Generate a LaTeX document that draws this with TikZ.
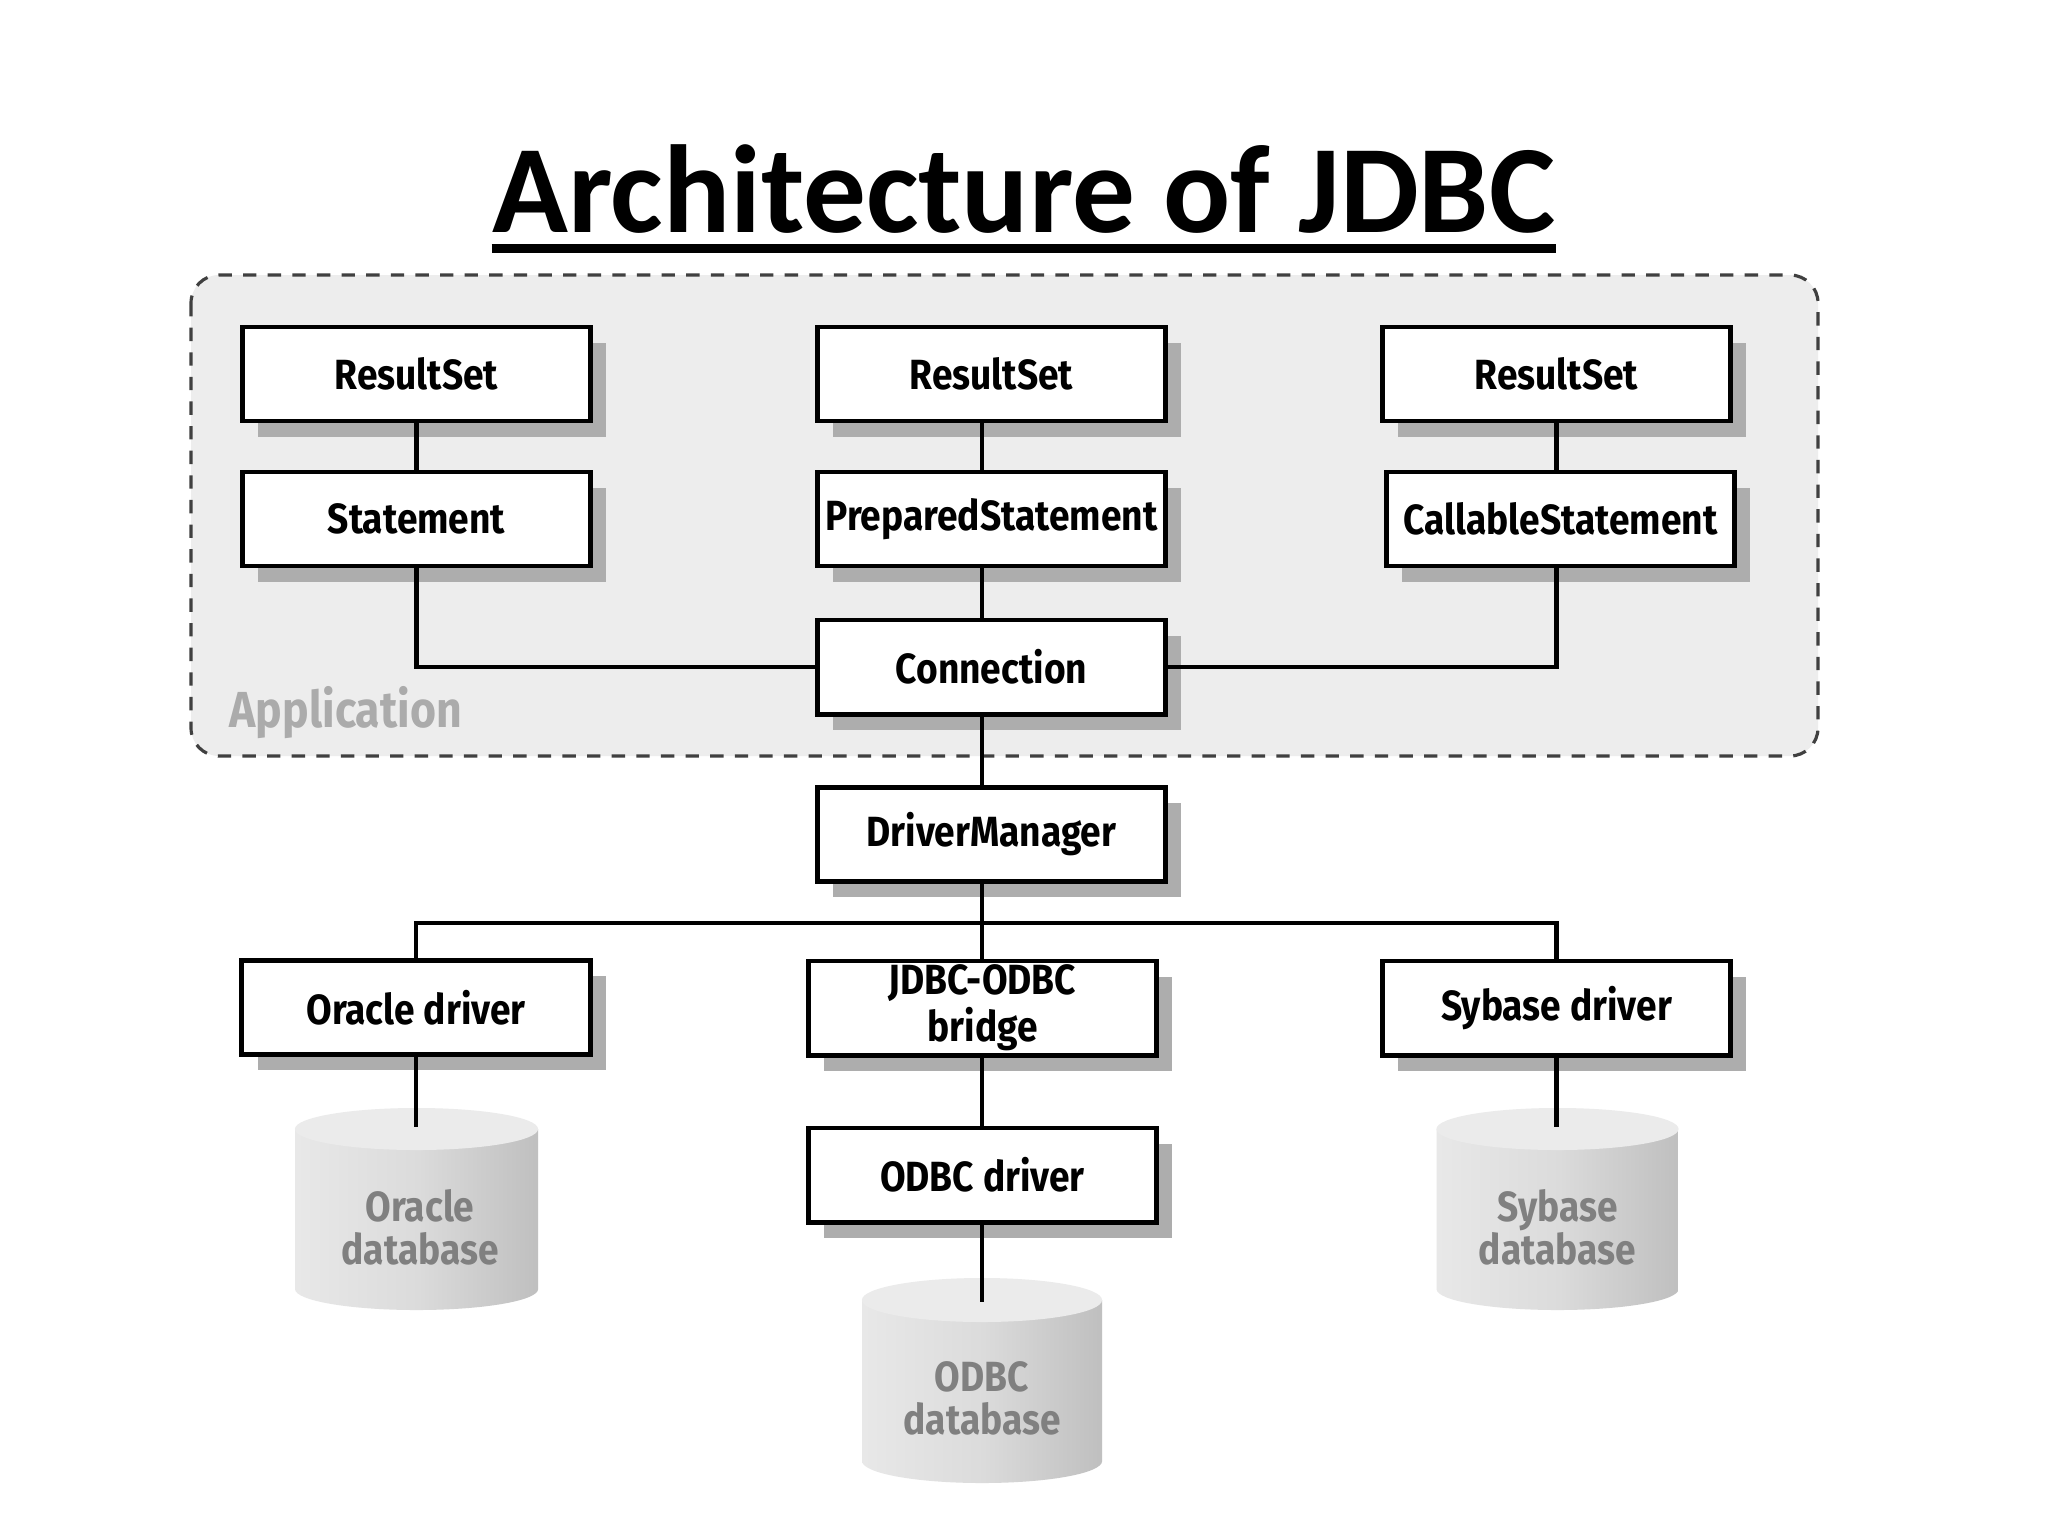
\documentclass[tikz,border=0pt]{standalone}
\usepackage{fontspec}
\usetikzlibrary{shadows,calc}
\newfontfamily\titlefont{Carlito}
\newfontfamily\boxfont{Fira Sans}[FakeStretch=0.88]

\begin{document}
\begin{tikzpicture}[x=0.01cm, y=-0.01cm,
  box/.style={draw, line width=1.4pt, fill=white, minimum width=3.48cm,
    minimum height=0.94cm, inner sep=0pt, align=center,
    font=\boxfont\bfseries\fontsize{12}{13.4}\selectfont,
    drop shadow={shadow xshift=4.5pt, shadow yshift=-4.5pt, fill=black!32, opacity=1}},
  link/.style={line width=1.15pt},
  dblabel/.style={align=center, inner sep=0pt, text=black!50,
    font=\boxfont\bfseries\fontsize{12}{12.3}\selectfont},
  appbox/.style={draw=black!75, line width=0.9pt, dash pattern=on 3.8pt off 3.2pt,
    rounded corners=0.28cm, fill=black!7},
  cylbody/.style={left color=black!9, right color=black!25, middle color=black!14},
  cyltop/.style={fill=black!8}
  ]
\fill[white] (0,0) rectangle (2048,1536);
\useasboundingbox (0,0) rectangle (2048,1536);

% title
\node[anchor=base, inner sep=0pt, font=\titlefont\bfseries\fontsize{35.6}{40}\selectfont] (title) at (1024,232) {Architecture of JDBC};
\draw[line width=2.6pt] ([yshift=-4.6pt]title.base west) -- ([yshift=-4.6pt]title.base east);

% application area
\path[appbox] (191,275) rectangle (1818,756);
\node[anchor=base west, inner sep=0pt, text=black!33,
  font=\boxfont\bfseries\fontsize{14.4}{15}\selectfont] (applbl) at (229,727) {Application};

% databases
\shade[cylbody] (295,1129) -- (295,1289) arc[start angle=180, end angle=360, x radius=1.215cm, y radius=0.21cm] -- (538,1129) -- cycle;
\fill[cyltop] (416.5,1129) ellipse [x radius=1.215cm, y radius=0.21cm];
\coordinate (odb) at (416.5,1127);
\node[dblabel] (odbl) at (420,1227) {Oracle\\database};

\shade[cylbody] (862,1300) -- (862,1461) arc[start angle=180, end angle=360, x radius=1.20cm, y radius=0.22cm] -- (1102,1300) -- cycle;
\fill[cyltop] (982,1300) ellipse [x radius=1.20cm, y radius=0.22cm];
\coordinate (odbcdb) at (982,1302);
\node[dblabel] (odbcbl) at (982,1398) {ODBC\\database};

\shade[cylbody] (1436.5,1129) -- (1436.5,1289) arc[start angle=180, end angle=360, x radius=1.21cm, y radius=0.21cm] -- (1678.5,1129) -- cycle;
\fill[cyltop] (1557.5,1129) ellipse [x radius=1.21cm, y radius=0.21cm];
\coordinate (sdb) at (1557.5,1127);
\node[dblabel] (sdbl) at (1557.5,1227) {Sybase\\database};

% boxes
\node[box] (rs1) at (416.5,374) {ResultSet};
\node[box] (st1) at (416.5,519) {Statement};
\node[box] (rs2) at (991.5,374) {ResultSet};
\node[box] (ps) at (991.5,519) {PreparedStatement};
\node[box] (rs3) at (1556.5,374) {ResultSet};
\node[box] (cs) at (1560.5,519) {CallableStatement};
\node[box] (con) at (991.5,667) {Connection};
\node[box] (dm) at (991.5,834.5) {DriverManager};
\node[box] (od) at (416,1007.5) {Oracle driver};
\node[box] (jo) at (982.5,1008) {JDBC-ODBC\\bridge};
\node[box] (sd) at (1556.5,1008) {Sybase driver};
\node[box] (odd) at (982.5,1175) {ODBC driver};

% connectors
\coordinate (mx) at (982,0);
\coordinate (bus) at (982,923);
\draw[link] (rs1.south) -- (rs1.south |- st1.north);
\draw[link] (st1.south) |- (con.west);
\draw[link] (rs2.south -| mx) -- (ps.north -| mx);
\draw[link] (ps.south -| mx) -- (con.north -| mx);
\draw[link] (rs3.south) -- (rs3.south |- cs.north);
\draw[link] (rs3.south |- cs.south) |- (con.east);
\draw[link] (con.south -| mx) -- (dm.north -| mx);
\draw[link] (dm.south -| mx) -- (jo.north -| mx);
\draw[link] (od.north) |- (bus) -| (sd.north);
\draw[link] (jo.south -| mx) -- (odd.north -| mx);
\draw[link] (od.south) -- (od.south |- odb);
\draw[link] (odd.south -| mx) -- (odbcdb);
\draw[link] (sd.south) -- (sd.south |- sdb);
\end{tikzpicture}
\end{document}
